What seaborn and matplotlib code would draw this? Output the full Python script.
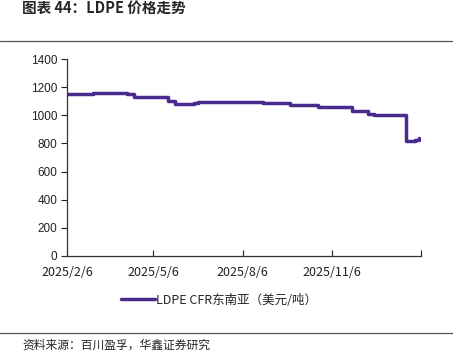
"""LDPE price trend chart (图表 44)."""
import matplotlib
matplotlib.use("Agg")
import matplotlib.pyplot as plt
import numpy as np
import pandas as pd
import seaborn as sns

# step-change dates and the price from that date on (USD/t)
change_dates = [
    "2025-02-06", "2025-03-05", "2025-04-01", "2025-04-09", "2025-04-16",
    "2025-05-21", "2025-05-28", "2025-06-17", "2025-06-21", "2025-08-27",
    "2025-09-24", "2025-10-23", "2025-11-27", "2025-12-13", "2025-12-20",
    "2026-01-22", "2026-01-31", "2026-02-04",
]
prices = [
    1150, 1160, 1155, 1150, 1130,
    1105, 1080, 1085, 1095, 1085,
    1070, 1060, 1030, 1010, 1000,
    815, 825, 840,
]
series_name = "LDPE CFR东南亚（美元/吨）"

tick_dates = ["2025-02-06", "2025-05-06", "2025-08-06", "2025-11-06", "2026-02-06"]
tick_labels = ["2025/2/6", "2025/5/6", "2025/8/6", "2025/11/6", ""]
y_ticks = [0, 200, 400, 600, 800, 1000, 1200, 1400]

title = "图表 44：LDPE 价格走势"
source = "资料来源：百川盈孚，华鑫证券研究"

LINE = "#4b2a8e"
W, H = 453, 358

sns.set_style("ticks")
plt.rcParams["font.family"] = ["Liberation Sans", "Noto Sans CJK SC", "DejaVu Sans"]
cjk = ["Noto Sans CJK SC", "DejaVu Sans"]

df = pd.DataFrame({"date": pd.to_datetime(change_dates), "price": prices})

fig = plt.figure(figsize=(W / 100, H / 100), dpi=100)
ax = fig.add_axes([67 / W, 1 - 256 / H, (421 - 67) / W, (256 - 59) / H])

sns.lineplot(data=df, x="date", y="price", ax=ax, color=LINE, lw=2.5,
             drawstyle="steps-post", label=series_name, legend=False)

ax.set_xlim(pd.Timestamp(tick_dates[0]), pd.Timestamp(tick_dates[-1]))
ax.set_ylim(0, 1400)
ax.set_yticks(y_ticks)
ax.set_xticks(pd.to_datetime(tick_dates))
ax.set_xticklabels(tick_labels, family=cjk, fontsize=9)
for lbl in ax.get_yticklabels():
    lbl.set_fontsize(8.5)
ax.tick_params(axis="y", direction="out", length=4, width=0.8, pad=3, colors="#222222")
ax.tick_params(axis="x", direction="in", length=4, width=0.8, pad=7, colors="#222222")
ax.set_xlabel("")
ax.set_ylabel("")
sns.despine(ax=ax)
for s in ("left", "bottom"):
    ax.spines[s].set_color("#333333")
    ax.spines[s].set_linewidth(0.9)

fig.legend(loc="center left", bbox_to_anchor=(121 / W, 1 - 300 / H), frameon=False,
           handlelength=2.7, handletextpad=0.1, borderpad=0, borderaxespad=0,
           prop={"family": cjk, "size": 9})

fig.text(22 / W, 1 - 8 / H, title, family=cjk, fontsize=10.5, fontweight="bold",
         va="center", ha="left")
fig.add_artist(plt.Line2D([0, 1], [1 - 41 / H] * 2, color="#555555", lw=0.9))
fig.add_artist(plt.Line2D([0, 1], [1 - 333 / H] * 2, color="#555555", lw=0.9))
fig.text(22 / W, 1 - 345 / H, source, family=cjk, fontsize=8.5, va="center", ha="left")

fig.savefig("out.png", dpi=100)
